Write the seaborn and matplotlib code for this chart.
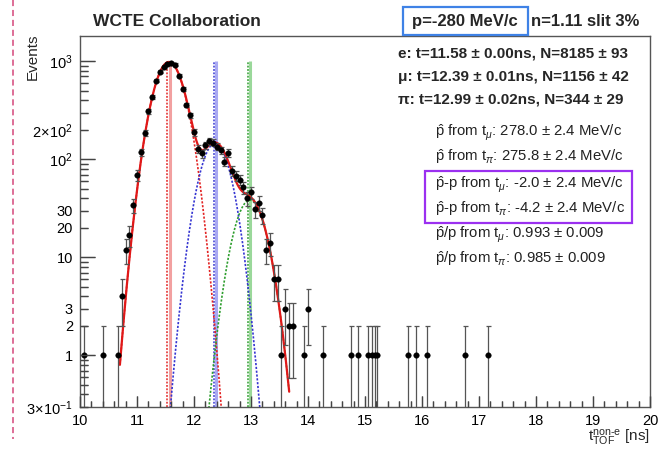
import numpy as np
import pandas as pd
import matplotlib
matplotlib.use("Agg")
import matplotlib.pyplot as plt
import seaborn as sns
from matplotlib.patches import Rectangle
from matplotlib.lines import Line2D
from matplotlib.ticker import FixedLocator, FuncFormatter, MultipleLocator, NullFormatter

# ---------------- data ----------------
t_data = [10.067, 10.400, 10.667,
          10.733, 10.800, 10.867, 10.933, 11.000, 11.067, 11.133, 11.200,
          11.267, 11.333, 11.400, 11.467, 11.533, 11.600, 11.667, 11.733,
          11.800, 11.867, 11.933, 12.000, 12.067, 12.133, 12.200, 12.267,
          12.333, 12.400, 12.467, 12.533, 12.600, 12.667, 12.733, 12.800,
          12.867, 12.933, 13.000, 13.067, 13.133, 13.200, 13.267, 13.333,
          13.400, 13.467, 13.533, 13.600, 13.667, 13.733,
          13.933, 14.000, 14.267, 14.750, 14.880, 15.060, 15.120, 15.170,
          15.210, 15.750, 15.890, 16.090, 16.760, 17.160]
n_data = [1, 1, 1,
          4, 12, 17, 34, 69, 118, 187, 308,
          430, 637, 780, 875, 935, 950, 920, 715,
          520, 360, 282, 188, 128, 115, 140, 154,
          148, 135, 124, 95, 117, 76, 68, 62,
          52, 40, 46, 31, 36, 27, 12, 14,
          6, 6, 1, 3, 2, 2,
          1, 3, 1, 1, 1, 1, 1, 1,
          1, 1, 1, 1, 1, 1]

# Gaussian fit components (e, mu, pi)
comp_names = ["e", "mu", "pi"]
fit_mean = [11.56, 12.37, 12.98]
fit_sigma = [0.228, 0.2225, 0.23]
fit_amp = [985.0, 146.0, 38.4]
fit_lo, fit_hi = 10.70, 13.67
mean_solid = [11.58, 12.39, 12.99]
mean_dotted = [11.53, 12.35, 12.94]
vline_top = 1000.0

dark_cols = ["#e32222", "#3535d2", "#2e9e2e"]
light_cols = ["#f2a0a0", "#a9a9f2", "#9ad89a"]

stat_lines = ["e: t=11.58 \u00b1 0.00ns, N=8185 \u00b1 93",
              "\u03bc: t=12.39 \u00b1 0.01ns, N=1156 \u00b1 42",
              "\u03c0: t=12.99 \u00b1 0.02ns, N=344 \u00b1 29"]
phat_lines = [r"$\hat{\mathrm{p}}$ from t$_{\mu}$: 278.0 $\pm$ 2.4 MeV/c",
              r"$\hat{\mathrm{p}}$ from t$_{\pi}$: 275.8 $\pm$ 2.4 MeV/c",
              r"$\hat{\mathrm{p}}$-p from t$_{\mu}$: -2.0 $\pm$ 2.4 MeV/c",
              r"$\hat{\mathrm{p}}$-p from t$_{\pi}$: -4.2 $\pm$ 2.4 MeV/c",
              r"$\hat{\mathrm{p}}$/p from t$_{\mu}$: 0.993 $\pm$ 0.009",
              r"$\hat{\mathrm{p}}$/p from t$_{\pi}$: 0.985 $\pm$ 0.009"]

x_ticks = [10, 11, 12, 13, 14, 15, 16, 17, 18, 19, 20]
y_major = [1, 10, 100, 1000]
y_major_labels = ["1", "10", r"$10^{2}$", r"$10^{3}$"]
y_minor_labels = {0.3: r"$3\!\times\!10^{-1}$", 2: "2", 3: "3", 20: "20", 30: "30",
                  200: r"$2\!\times\!10^{2}$"}

# ---------------- style ----------------
sns.set_style("white")
plt.rcParams.update({
    "font.family": ["Liberation Sans", "DejaVu Sans"],
    "mathtext.fontset": "custom",
    "mathtext.rm": "Liberation Sans",
    "mathtext.it": "Liberation Sans:italic",
    "mathtext.bf": "Liberation Sans:bold",
    "xtick.bottom": True, "ytick.left": True,
    "xtick.top": False, "ytick.right": False,
    "xtick.direction": "in", "ytick.direction": "in",
})

W, H = 669, 453
fig = plt.figure(figsize=(W / 100, H / 100), dpi=100)
L, R, T, B = 80, 650, 36, 406.7
ax_rect = [L / W, 1 - B / H, (R - L) / W, (B - T) / H]
ax = fig.add_axes(ax_rect)

df = pd.DataFrame({"t": t_data, "n": n_data})
n_arr = df["n"].to_numpy(dtype=float)
err_up = np.sqrt(n_arr)
# lower Poisson error, ending just below the axis floor for small counts
err_lo = np.minimum(np.sqrt(n_arr), n_arr - 0.05)

# vertical mean lines
ax.vlines(mean_solid, 0.3, vline_top, colors=light_cols, lw=2.2, zorder=1)
ax.vlines(mean_dotted, 0.3, vline_top, colors=dark_cols, lw=1.1,
          linestyles=(0, (1.2, 1.0)), zorder=1)

# fit curves
xs = np.linspace(fit_lo, fit_hi, 400)
comps = []
for name, m, s, a in zip(comp_names, fit_mean, fit_sigma, fit_amp):
    comps.append(a * np.exp(-0.5 * ((xs - m) / s) ** 2))
curve_df = pd.DataFrame({"t": np.tile(xs, 3),
                         "y": np.maximum(np.concatenate(comps), 1e-3),
                         "comp": np.repeat(comp_names, len(xs))})
for name, col in zip(comp_names, dark_cols):
    sub = curve_df[curve_df["comp"] == name]
    sns.lineplot(data=sub, x="t", y="y", color=col, lw=1.2,
                 linestyle=(0, (1.3, 1.0)), ax=ax, sort=False,
                 estimator=None, zorder=2)
total_df = pd.DataFrame({"t": xs, "y": np.sum(comps, axis=0)})
sns.lineplot(data=total_df, x="t", y="y", color="#e01818", lw=1.6, ax=ax,
             sort=False, estimator=None, zorder=3)

# data points with Poisson errors
ax.errorbar(df["t"], df["n"], yerr=[err_lo, err_up], fmt="none",
            ecolor="#555555", elinewidth=0.9, capsize=1.8, capthick=0.9,
            zorder=4)
sns.scatterplot(data=df, x="t", y="n", color="black", s=16, edgecolor="black",
                linewidth=0.3, ax=ax, zorder=5)

minor_vals = [0.3, 0.4, 0.5, 0.6, 0.7, 0.8, 0.9] + \
    [d * k for d in (1, 10, 100) for k in range(2, 10)]


def minor_fmt(v, p):
    for key, lab in y_minor_labels.items():
        if abs(v - key) / key < 1e-6:
            return lab
    return ""


def setup_axis(a, labels):
    a.set_yscale("log")
    a.set_xlim(10, 20)
    a.set_ylim(0.3, 1812)
    a.set_xlabel("")
    a.set_ylabel("")
    a.xaxis.set_major_locator(FixedLocator(x_ticks))
    a.xaxis.set_minor_locator(MultipleLocator(0.2))
    a.yaxis.set_major_locator(FixedLocator(y_major))
    a.yaxis.set_minor_locator(FixedLocator(minor_vals))
    if labels:
        a.xaxis.set_major_formatter(FuncFormatter(lambda v, p: "%d" % round(v)))
        a.yaxis.set_major_formatter(FuncFormatter(
            lambda v, p: y_major_labels[y_major.index(
                min(y_major, key=lambda z: abs(z - v)))]))
        a.yaxis.set_minor_formatter(FuncFormatter(minor_fmt))
    else:
        for axis in (a.xaxis, a.yaxis):
            axis.set_major_formatter(NullFormatter())
            axis.set_minor_formatter(NullFormatter())
    a.tick_params(axis="both", which="both", direction="in", color="#444444",
                  labelcolor="black", labelsize=10.5, width=0.9,
                  bottom=True, left=True, top=False, right=False,
                  labelbottom=labels, labelleft=labels)
    a.tick_params(axis="x", which="major", length=8, pad=5)
    a.tick_params(axis="x", which="minor", length=4)
    a.tick_params(axis="y", which="major", length=11, pad=5)
    a.tick_params(axis="y", which="minor", length=5.5, pad=5)


setup_axis(ax, True)
for sp in ax.spines.values():
    sp.set_color("#555555")
    sp.set_linewidth(1.0)

# transparent overlay axes that carries the tick marks on top of everything
axt = fig.add_axes(ax_rect, facecolor="none", zorder=10)
setup_axis(axt, False)
for sp in axt.spines.values():
    sp.set_visible(False)


def fx(px):
    return px / W


def fy(py):
    return 1 - py / H


# titles and texts
fig.text(fx(93), fy(21.5), "WCTE Collaboration", fontsize=12.5,
         fontweight="bold", ha="left", va="center")
fig.text(fx(412), fy(21.5), "p=-280 MeV/c", fontsize=12, ha="left",
         va="center", fontweight="semibold")
fig.text(fx(531), fy(21.5), "n=1.11 slit 3%", fontsize=12, ha="left",
         va="center", fontweight="semibold")
fig.add_artist(Rectangle((fx(403), fy(35)), (528 - 403) / W, 28 / H,
                         transform=fig.transFigure, fill=False,
                         edgecolor="#3f82e6", lw=1.6))

for yy, s in zip([53, 77, 100], stat_lines):
    fig.text(fx(398), fy(yy), s, fontsize=11, fontweight="bold",
             ha="left", va="center")
for yy, s in zip([133.3, 156.7, 185, 208.3, 235, 258.3], phat_lines):
    fig.text(fx(435), fy(yy), s, fontsize=10.7, ha="left", va="center",
             color="#222222")
fig.add_artist(Rectangle((fx(425), fy(222.7)), (632 - 425) / W,
                         (222.7 - 171) / H, transform=fig.transFigure,
                         fill=False, edgecolor="#9b30f0", lw=1.6))

fig.text(fx(33), fy(33), "Events", rotation=90, fontsize=11, ha="center",
         va="top")
fig.text(fx(650), fy(442), r"$\mathrm{t}^{\mathrm{non\text{-}e}}_{\mathrm{TOF}}$ [ns]",
         fontsize=11, ha="right", va="baseline")

# slide annotation dashed line at the left
fig.add_artist(Line2D([fx(12.5), fx(12.5)], [fy(0), fy(439)],
                      transform=fig.transFigure, color="#d4477a", lw=1.1,
                      linestyle=(0, (4, 2.5))))

fig.savefig("out.png", dpi=100)
